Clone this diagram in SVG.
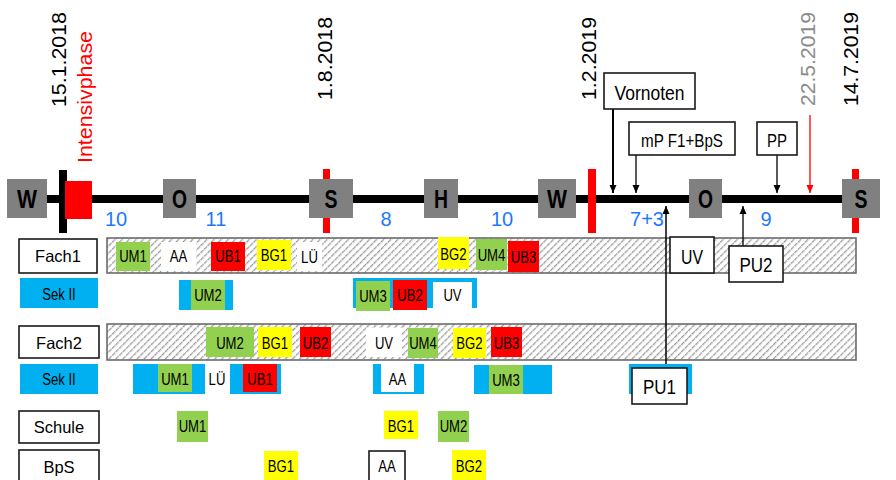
<svg xmlns="http://www.w3.org/2000/svg" width="896" height="480" viewBox="0 0 896 480">
<style>
.g{fill:#92D050}.r{fill:#FF0000}.y{fill:#FFFF00}.b{fill:#00B0F0}.w{fill:#FFFFFF}
.t{font-family:'Liberation Sans',Arial,sans-serif;font-size:16px;text-anchor:middle;fill:#000}
.lb{font-family:'Liberation Sans',Arial,sans-serif;font-size:16.5px;text-anchor:middle;fill:#000}
.dt{font-family:'Liberation Sans',Arial,sans-serif;font-size:21px;fill:#000}
.num{font-family:'Liberation Sans',Arial,sans-serif;font-size:20px;text-anchor:middle;fill:#1E78FF}
.gb{fill:#808080}
.gl{font-family:'Liberation Sans',Arial,sans-serif;font-size:25px;font-weight:bold;text-anchor:middle;fill:#000}
.box{fill:#fff;stroke:#1a1a1a;stroke-width:1.6}
.hb{fill:url(#hatch);stroke:#6b6b6b;stroke-width:1.6}
.ar{stroke:#000;stroke-width:1.3;fill:none}
</style>
<defs>
<pattern id="hatch" width="5" height="5" patternUnits="userSpaceOnUse" patternTransform="rotate(45)">
<rect width="5" height="5" fill="#fff"/>
<line x1="0.7" y1="0" x2="0.7" y2="5" stroke="#8a8a8a" stroke-width="1.2" stroke-dasharray="2 0.8"/>
</pattern>
<marker id="ah" markerWidth="8" markerHeight="8" refX="8" refY="4" orient="auto" markerUnits="userSpaceOnUse"><path d="M0,0.5 L8,4 L0,7.5 z" fill="#000"/></marker>
<marker id="ahr" markerWidth="8" markerHeight="8" refX="8" refY="4" orient="auto" markerUnits="userSpaceOnUse"><path d="M0,0.5 L8,4 L0,7.5 z" fill="#FF0000"/></marker>
</defs>
<rect width="896" height="480" fill="#fff"/>

<!-- dates -->
<g id="dates">
<text class="dt" transform="translate(66,107) rotate(-90)" textLength="95" lengthAdjust="spacingAndGlyphs">15.1.2018</text>
<text class="dt" transform="translate(92,163) rotate(-90)" style="fill:#FF0000" textLength="132" lengthAdjust="spacingAndGlyphs">Intensivphase</text>
<text class="dt" transform="translate(332,100) rotate(-90)" textLength="83" lengthAdjust="spacingAndGlyphs">1.8.2018</text>
<text class="dt" transform="translate(596,100) rotate(-90)" textLength="83" lengthAdjust="spacingAndGlyphs">1.2.2019</text>
<text class="dt" transform="translate(815,106) rotate(-90)" style="fill:#8c8c8c" textLength="94" lengthAdjust="spacingAndGlyphs">22.5.2019</text>
<text class="dt" transform="translate(858,106) rotate(-90)" textLength="94" lengthAdjust="spacingAndGlyphs">14.7.2019</text>
</g>

<!-- timeline -->
<g id="timeline">
<line x1="15" y1="199" x2="872" y2="199" stroke="#000" stroke-width="8"/>
<rect x="323" y="169" width="7" height="64" class="r"/>
<rect x="852" y="169" width="7" height="64" class="r"/>
<rect x="588" y="169" width="8" height="64" class="r"/>
<rect x="59" y="170" width="8" height="63" fill="#000"/>
<rect x="65" y="181" width="27" height="38" class="r"/>
</g>

<g id="W1"><rect x="7" y="179" width="40" height="39" class="gb"/><text class="gl" x="27" y="208" textLength="20" lengthAdjust="spacingAndGlyphs">W</text></g>
<g id="O1"><rect x="163" y="179" width="33" height="39" class="gb"/><text class="gl" x="179.5" y="208" textLength="15" lengthAdjust="spacingAndGlyphs">O</text></g>
<g id="S1"><rect x="309" y="179" width="44" height="39" class="gb"/><text class="gl" x="331" y="208" textLength="13" lengthAdjust="spacingAndGlyphs">S</text></g>
<g id="H1"><rect x="424" y="179" width="34" height="39" class="gb"/><text class="gl" x="441" y="208" textLength="14" lengthAdjust="spacingAndGlyphs">H</text></g>
<g id="W2"><rect x="538" y="179" width="38" height="39" class="gb"/><text class="gl" x="557" y="208" textLength="20" lengthAdjust="spacingAndGlyphs">W</text></g>
<g id="O2"><rect x="689" y="179" width="33" height="39" class="gb"/><text class="gl" x="705.5" y="208" textLength="15" lengthAdjust="spacingAndGlyphs">O</text></g>
<g id="S2"><rect x="842" y="179" width="38" height="39" class="gb"/><text class="gl" x="861" y="208" textLength="13" lengthAdjust="spacingAndGlyphs">S</text></g>

<g id="weeks">
<text class="num" x="116" y="226">10</text>
<text class="num" x="216" y="226">11</text>
<text class="num" x="386" y="226">8</text>
<text class="num" x="502" y="226">10</text>
<text class="num" x="647" y="226">7+3</text>
<text class="num" x="766" y="226">9</text>
</g>

<!-- hatched bars -->
<g id="fach1-bar"><rect x="107" y="238" width="749" height="35" class="hb"/></g>
<g id="fach2-bar"><rect x="107" y="324" width="749" height="36" class="hb"/></g>

<!-- left labels -->
<g id="lbl-fach1"><rect x="19" y="239" width="78" height="34" class="box"/><text class="lb" x="58" y="262">Fach1</text></g>
<g id="lbl-sek1"><rect x="20" y="278" width="78" height="30" class="b"/><text class="t" x="59" y="300" textLength="33.5" lengthAdjust="spacingAndGlyphs">Sek II</text></g>
<g id="lbl-fach2"><rect x="19" y="326" width="80" height="32" class="box"/><text class="lb" x="59" y="349">Fach2</text></g>
<g id="lbl-sek2"><rect x="20" y="364" width="78" height="30" class="b"/><text class="t" x="59" y="385" textLength="33.5" lengthAdjust="spacingAndGlyphs">Sek II</text></g>
<g id="lbl-schule"><rect x="19" y="411" width="80" height="32" class="box"/><text class="lb" x="59" y="433">Schule</text></g>
<g id="lbl-bps"><rect x="19" y="450" width="80" height="34" class="box"/><text class="lb" x="59" y="473">BpS</text></g>

<!-- connectors -->
<g id="connectors">
<line x1="613" y1="109" x2="613" y2="193" stroke="#000" stroke-width="2" marker-end="url(#ah)"/>
<line x1="636" y1="155" x2="636" y2="193" class="ar" marker-end="url(#ah)"/>
<line x1="777" y1="155" x2="777" y2="193" class="ar" marker-end="url(#ah)"/>
<line x1="810" y1="115" x2="810" y2="193" stroke="#FF0000" stroke-width="1.3" marker-end="url(#ahr)"/>
<line x1="666" y1="368" x2="666" y2="206" stroke="#000" stroke-width="1.5" marker-end="url(#ah)"/>
<line x1="743" y1="246" x2="743" y2="206" class="ar" marker-end="url(#ah)"/>
</g>

<!-- callouts -->
<g id="vornoten"><rect x="604" y="73" width="91" height="36" class="box"/><text class="t" x="649.5" y="100" style="font-size:21px" textLength="70" lengthAdjust="spacingAndGlyphs">Vornoten</text></g>
<g id="mp"><rect x="629" y="122" width="106" height="33" class="box"/><text class="t" x="682" y="146.5" style="font-size:18px" textLength="82" lengthAdjust="spacingAndGlyphs">mP F1+BpS</text></g>
<g id="pp"><rect x="757" y="122" width="40" height="33" class="box"/><text class="t" x="777" y="146.5" style="font-size:18px" textLength="20" lengthAdjust="spacingAndGlyphs">PP</text></g>

<!-- Fach1 row -->
<g id="f1-um1"><rect x="116" y="242" width="34" height="29" class="g"/><text class="t" x="133" y="262" textLength="27.7" lengthAdjust="spacingAndGlyphs">UM1</text></g>
<g id="f1-aa"><rect x="161" y="242" width="35" height="29" class="w"/><text class="t" x="178.5" y="262" textLength="17.5" lengthAdjust="spacingAndGlyphs">AA</text></g>
<g id="f1-ub1"><rect x="211" y="242" width="34" height="29" class="r"/><text class="t" x="228" y="262" textLength="25.5" lengthAdjust="spacingAndGlyphs">UB1</text></g>
<g id="f1-bg1"><rect x="257" y="240" width="34" height="30" class="y"/><text class="t" x="274" y="261" textLength="26.3" lengthAdjust="spacingAndGlyphs">BG1</text></g>
<g id="f1-lu"><rect x="297" y="242" width="25" height="29" class="w"/><text class="t" x="309.5" y="263" textLength="16.8" lengthAdjust="spacingAndGlyphs">LÜ</text></g>
<g id="f1-bg2"><rect x="438" y="237" width="31" height="32" class="y"/><text class="t" x="453.5" y="260" textLength="26.3" lengthAdjust="spacingAndGlyphs">BG2</text></g>
<g id="f1-um4"><rect x="476" y="239" width="31" height="31" class="g"/><text class="t" x="491.5" y="261" textLength="27.7" lengthAdjust="spacingAndGlyphs">UM4</text></g>
<g id="f1-ub3"><rect x="508" y="241" width="31" height="31" class="r"/><text class="t" x="523.5" y="263" textLength="25.5" lengthAdjust="spacingAndGlyphs">UB3</text></g>
<g id="f1-uv"><rect x="670" y="237" width="44" height="36" class="box"/><text class="t" x="692" y="264" style="font-size:20px" textLength="22" lengthAdjust="spacingAndGlyphs">UV</text></g>
<g id="pu2"><rect x="729" y="246" width="54" height="36" class="box"/><text class="t" x="756" y="272" style="font-size:21px" textLength="33" lengthAdjust="spacingAndGlyphs">PU2</text></g>

<!-- Fach1 Sek II row -->
<g id="s1-um2"><rect x="179" y="280" width="54" height="30" class="b"/><rect x="191" y="280" width="34" height="30" class="g"/><text class="t" x="208" y="301" textLength="27.7" lengthAdjust="spacingAndGlyphs">UM2</text></g>
<g id="s1-group"><rect x="353" y="278" width="124" height="30" class="b"/><rect x="433" y="282" width="39" height="26" class="w"/>
<rect x="356" y="281" width="34" height="30" class="g"/><text class="t" x="373" y="302" textLength="27.7" lengthAdjust="spacingAndGlyphs">UM3</text>
<rect x="393" y="280" width="34" height="30" class="r"/><text class="t" x="410" y="301" textLength="25.5" lengthAdjust="spacingAndGlyphs">UB2</text>
<text class="t" x="452.5" y="301" textLength="18.2" lengthAdjust="spacingAndGlyphs">UV</text></g>

<!-- Fach2 row -->
<g id="f2-um2"><rect x="206" y="327" width="48" height="30" class="g"/><text class="t" x="230" y="348.5" textLength="27.7" lengthAdjust="spacingAndGlyphs">UM2</text></g>
<g id="f2-bg1"><rect x="258" y="327" width="34" height="30" class="y"/><text class="t" x="275" y="348.5" textLength="26.3" lengthAdjust="spacingAndGlyphs">BG1</text></g>
<g id="f2-ub2"><rect x="300" y="327" width="31" height="30" class="r"/><text class="t" x="315.5" y="348.5" textLength="25.5" lengthAdjust="spacingAndGlyphs">UB2</text></g>
<g id="f2-uv"><rect x="366" y="328" width="36" height="29" class="w"/><text class="t" x="384" y="348.5" textLength="18.2" lengthAdjust="spacingAndGlyphs">UV</text></g>
<g id="f2-um4"><rect x="408" y="328" width="30" height="30" class="g"/><text class="t" x="423" y="349" textLength="27.7" lengthAdjust="spacingAndGlyphs">UM4</text></g>
<g id="f2-bg2"><rect x="453" y="328" width="33" height="30" class="y"/><text class="t" x="469.5" y="349" textLength="26.3" lengthAdjust="spacingAndGlyphs">BG2</text></g>
<g id="f2-ub3"><rect x="491" y="327" width="31" height="30" class="r"/><text class="t" x="506.5" y="348.5" textLength="25.5" lengthAdjust="spacingAndGlyphs">UB3</text></g>

<!-- Fach2 Sek II row -->
<g id="s2-um1"><rect x="133" y="364" width="72" height="30" class="b"/><rect x="158" y="364" width="34" height="28" class="g"/><text class="t" x="175" y="385" textLength="27.7" lengthAdjust="spacingAndGlyphs">UM1</text></g>
<g id="s2-lu"><text class="t" x="217" y="385" textLength="16.8" lengthAdjust="spacingAndGlyphs">LÜ</text></g>
<g id="s2-ub1"><rect x="230" y="364" width="51" height="30" class="b"/><rect x="243" y="364" width="34" height="28" class="r"/><text class="t" x="260" y="385" textLength="25.5" lengthAdjust="spacingAndGlyphs">UB1</text></g>
<g id="s2-aa"><rect x="373" y="364" width="51" height="30" class="b"/><rect x="381" y="364" width="33" height="28" class="w"/><text class="t" x="397.5" y="385" textLength="17.5" lengthAdjust="spacingAndGlyphs">AA</text></g>
<g id="s2-um3"><rect x="474" y="365" width="78" height="29" class="b"/><rect x="489" y="365" width="34" height="29" class="g"/><text class="t" x="506" y="386" textLength="27.7" lengthAdjust="spacingAndGlyphs">UM3</text></g>
<g id="pu1"><rect x="629" y="364" width="63" height="30" class="b"/><rect x="632" y="368" width="55" height="36" class="box"/><text class="t" x="659.5" y="394" style="font-size:21px" textLength="33" lengthAdjust="spacingAndGlyphs">PU1</text></g>

<!-- Schule row -->
<g id="sc-um1"><rect x="177" y="411" width="31" height="31" class="g"/><text class="t" x="192.5" y="432" textLength="27.7" lengthAdjust="spacingAndGlyphs">UM1</text></g>
<g id="sc-bg1"><rect x="384" y="411" width="34" height="28" class="y"/><text class="t" x="401" y="432" textLength="26.3" lengthAdjust="spacingAndGlyphs">BG1</text></g>
<g id="sc-um2"><rect x="438" y="411" width="31" height="31" class="g"/><text class="t" x="453.5" y="432" textLength="27.7" lengthAdjust="spacingAndGlyphs">UM2</text></g>

<!-- BpS row -->
<g id="bp-bg1"><rect x="264" y="451" width="34" height="32" class="y"/><text class="t" x="281" y="472" textLength="26.3" lengthAdjust="spacingAndGlyphs">BG1</text></g>
<g id="bp-aa"><rect x="369" y="451" width="36" height="33" class="box"/><text class="t" x="387" y="472" textLength="17.5" lengthAdjust="spacingAndGlyphs">AA</text></g>
<g id="bp-bg2"><rect x="452" y="450" width="34" height="32" class="y"/><text class="t" x="469" y="472" textLength="26.3" lengthAdjust="spacingAndGlyphs">BG2</text></g>
</svg>
